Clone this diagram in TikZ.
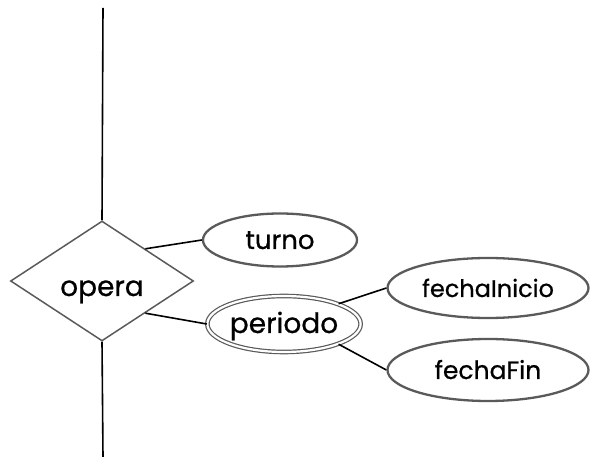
\documentclass[tikz,border=0pt]{standalone}
\usepackage{fontspec}
\setmainfont{Poppins}[FakeBold=0.7]
\usetikzlibrary{shapes.geometric,calc}
\definecolor{edgegray}{HTML}{5A5A5A}
\newcommand{\fsz}[1]{\fontsize{#1}{#1}\selectfont}
\tikzset{
  relbox/.style={diamond, draw=edgegray, line width=1.5pt, inner sep=0pt,
    minimum width=183pt, minimum height=120pt, aspect=1.525,
    text height=32pt, text depth=2pt, font=\fsz{28}},
  attrib/.style={ellipse, draw=edgegray, line width=2.3pt, inner sep=0pt,
    text height=20pt, text depth=2pt},
  multiattrib/.style={attrib, double=white, double distance=2.2pt, line width=1.2pt},
  link/.style={draw=black, line width=1.6pt}
}
\begin{document}
\begin{tikzpicture}[x=1pt,y=-1pt]
  \useasboundingbox (0,0) rectangle (590,457);
  \node[relbox] (op) at (102,281) {opera};
  \node[attrib, font=\fsz{26}, minimum width=154pt, minimum height=53pt] (tu) at (280,240) {turno};
  \node[multiattrib, font=\fsz{28}, minimum width=151pt, minimum height=56pt] (pe) at (284,324) {periodo};
  \node[attrib, font=\fsz{24}, minimum width=201pt, minimum height=60pt] (fi) at (488,288) {fechaInicio};
  \node[attrib, font=\fsz{25}, minimum width=201pt, minimum height=62pt] (ff) at (488,370) {fechaFin};
  \coordinate (top) at (103,8);
  \coordinate (bot) at (103,457);
  \draw[link] (top) -- (op.north);
  \draw[link] (op.south) -- (bot);
  \draw[link] ($(op.north)!0.47!(op.east)$) -- (tu.west);
  \draw[link] ($(op.south)!0.47!(op.east)$) -- (pe.west);
  \draw[link] (pe.north east) -- (fi.west);
  \draw[link] (pe.south east) -- (ff.west);
\end{tikzpicture}
\end{document}
